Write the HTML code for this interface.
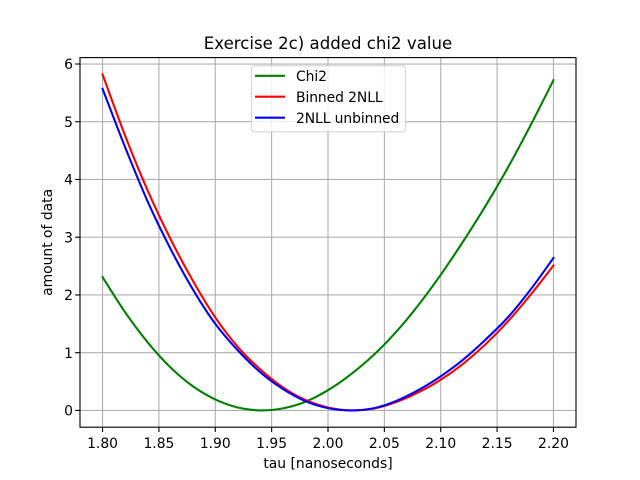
<!DOCTYPE html>
<html lang="en">
<head>
<meta charset="utf-8">
<title>Exercise 2c) added chi2 value</title>
<style>
html,body{margin:0;padding:0;background:#fff;width:640px;height:480px;overflow:hidden}
svg{display:block}
text{font-family:"DejaVu Sans","Liberation Sans",sans-serif;fill:#000}
</style>
</head>
<body>
<svg id="chart" xmlns="http://www.w3.org/2000/svg" width="640" height="480" viewBox="0 0 640 480">
  <rect x="0" y="0" width="640" height="480" fill="#fff"/>
  <g id="grid"></g>
  <g id="series"></g>
  <g id="ticks"></g>
  <rect x="80" y="57.6" width="496" height="369.6" fill="none" stroke="#000" stroke-width="1.11"/>
  <text x="328" y="49" font-size="16.6" text-anchor="middle">Exercise 2c) added chi2 value</text>
  <text x="328" y="468" font-size="13.89" text-anchor="middle">tau [nanoseconds]</text>
  <text x="0" y="0" font-size="13.89" text-anchor="middle" transform="translate(52 242.4) rotate(-90)">amount of data</text>
  <g>
    <rect x="251.5" y="65.8" width="154" height="66" rx="2.8" ry="2.8" fill="#fff" fill-opacity="0.8" stroke="#ccc" stroke-opacity="0.8" stroke-width="1.11"/>
    <g>
      <line x1="255" y1="75.8" x2="285" y2="75.8" stroke="#008000" stroke-width="2.08"/>
      <text x="296" y="81" font-size="13.89" letter-spacing="-0.08">Chi2</text>
    </g>
    <g>
      <line x1="255" y1="96.7" x2="285" y2="96.7" stroke="#ff0000" stroke-width="2.08"/>
      <text x="296" y="102" font-size="13.89" letter-spacing="-0.08">Binned 2NLL</text>
    </g>
    <g>
      <line x1="255" y1="117.7" x2="285" y2="117.7" stroke="#0000ff" stroke-width="2.08"/>
      <text x="296" y="123" font-size="13.89" letter-spacing="-0.08">2NLL unbinned</text>
    </g>
  </g>
</svg>
<script>
const tau = [1.80,1.82,1.84,1.86,1.88,1.90,1.92,1.94,1.96,1.98,2.00,2.02,2.04,2.06,2.08,2.10,2.12,2.14,2.16,2.18,2.20];
const chi2Values = [2.31,1.70,1.18,0.75,0.42,0.19,0.05,0.00,0.035,0.15,0.35,0.62,0.95,1.35,1.82,2.35,2.93,3.55,4.22,4.95,5.72];
const binnedValues = [5.82,4.76,3.81,2.98,2.25,1.61,1.10,0.71,0.40,0.18,0.05,0.00,0.03,0.14,0.31,0.53,0.81,1.15,1.55,2.01,2.51];
const unbinnedValues = [5.57,4.56,3.62,2.81,2.10,1.50,1.04,0.66,0.37,0.16,0.04,0.00,0.035,0.16,0.35,0.59,0.88,1.23,1.62,2.10,2.64];
const xTickValues = [1.80,1.85,1.90,1.95,2.00,2.05,2.10,2.15,2.20];
const xTickLabels = ["1.80","1.85","1.90","1.95","2.00","2.05","2.10","2.15","2.20"];
const yTickValues = [0,1,2,3,4,5,6];
const yTickLabels = ["0","1","2","3","4","5","6"];

const NS = "http://www.w3.org/2000/svg";
const plot = {left:80, right:576, top:57.6, bottom:427.2};
const xDomain = [1.78, 2.22];
const yDomain = [-0.291, 6.111];
function xScale(v){ return plot.left + (v - xDomain[0]) / (xDomain[1] - xDomain[0]) * (plot.right - plot.left); }
function yScale(v){ return plot.bottom - (v - yDomain[0]) / (yDomain[1] - yDomain[0]) * (plot.bottom - plot.top); }

function makeLine(parent, x1, y1, x2, y2, color, width){
  const l = document.createElementNS(NS, "line");
  l.setAttribute("x1", x1); l.setAttribute("y1", y1);
  l.setAttribute("x2", x2); l.setAttribute("y2", y2);
  l.setAttribute("stroke", color); l.setAttribute("stroke-width", width);
  parent.appendChild(l);
  return l;
}
function makeText(parent, x, y, str, anchor){
  const t = document.createElementNS(NS, "text");
  t.setAttribute("x", x); t.setAttribute("y", y);
  t.setAttribute("font-size", "13.89");
  t.setAttribute("text-anchor", anchor);
  t.textContent = str;
  parent.appendChild(t);
  return t;
}
function curvePath(xs, ys){
  const p = xs.map(function(v, i){ return [xScale(v), yScale(ys[i])]; });
  let d = "M" + p[0][0].toFixed(2) + " " + p[0][1].toFixed(2);
  for (let i = 0; i < p.length - 1; i++) {
    const a = p[Math.max(i - 1, 0)], b = p[i], c = p[i + 1], e = p[Math.min(i + 2, p.length - 1)];
    d += " C" + (b[0] + (c[0] - a[0]) / 6).toFixed(2) + " " + (b[1] + (c[1] - a[1]) / 6).toFixed(2) +
         " " + (c[0] - (e[0] - b[0]) / 6).toFixed(2) + " " + (c[1] - (e[1] - b[1]) / 6).toFixed(2) +
         " " + c[0].toFixed(2) + " " + c[1].toFixed(2);
  }
  return d;
}

const gridGroup = document.getElementById("grid");
const tickGroup = document.getElementById("ticks");
const seriesGroup = document.getElementById("series");

xTickValues.forEach(function(v, i){
  const x = xScale(v);
  const g = makeLine(gridGroup, x, plot.top, x, plot.bottom, "#b0b0b0", 1.11);
  
  
  const t = makeLine(tickGroup, x, plot.bottom, x, plot.bottom + 4.86, "#000", 1.11);
  
  
  const lab = makeText(tickGroup, x, 448, xTickLabels[i], "middle");
  
  
});
yTickValues.forEach(function(v, i){
  const y = yScale(v);
  const g = makeLine(gridGroup, plot.left, y, plot.right, y, "#b0b0b0", 1.11);
  
  
  const t = makeLine(tickGroup, plot.left - 4.86, y, plot.left, y, "#000", 1.11);
  
  
  const lab = makeText(tickGroup, 73, y + 5.2, yTickLabels[i], "end");
  
  
});

function drawSeries(values, color){
  const path = document.createElementNS(NS, "path");
  path.setAttribute("d", curvePath(tau, values));
  path.setAttribute("fill", "none");
  path.setAttribute("stroke", color);
  path.setAttribute("stroke-width", "2.08");
  path.setAttribute("stroke-linecap", "square");
  path.setAttribute("stroke-linejoin", "round");
  seriesGroup.appendChild(path);
  return path;
}
const chi2Line = drawSeries(chi2Values, "#008000");


const binnedLine = drawSeries(binnedValues, "#ff0000");


const unbinnedLine = drawSeries(unbinnedValues, "#0000ff");


</script>
</body>
</html>
